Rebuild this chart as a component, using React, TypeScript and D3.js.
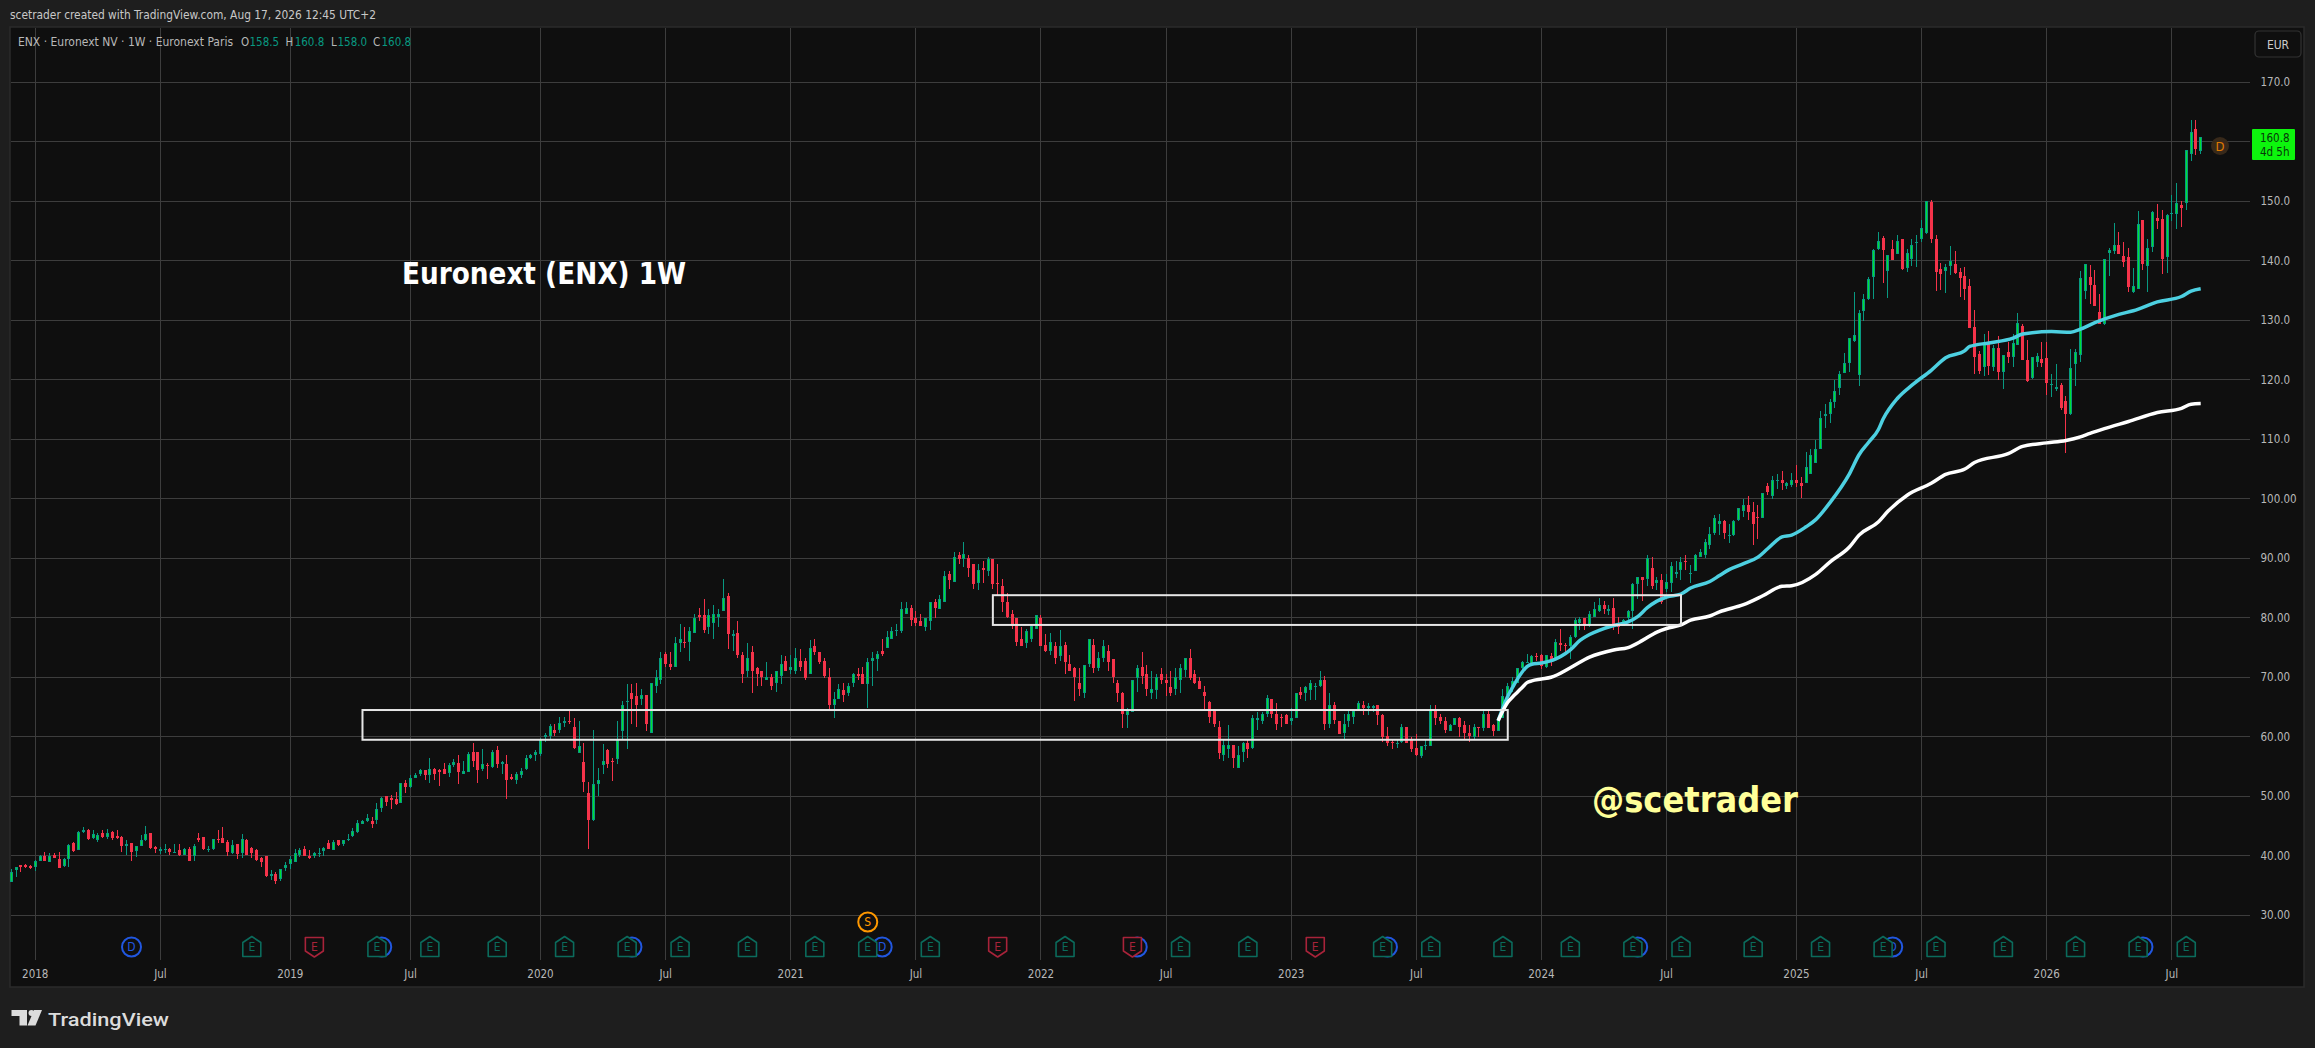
import React from "react";
import * as d3 from "d3";

// Weekly candles (EUR)
const opens = [
35.6,37.6,38.4,38.4,38.3,38.1,39.2,39.9,39.0,40.2,
39.4,38.3,39.4,42.1,41.0,44.0,44.3,43.0,42.6,43.8,
43.2,44.0,43.4,43.2,41.7,42.1,40.8,41.7,42.6,43.8,
41.4,40.8,40.9,41.1,40.6,40.9,40.2,41.2,40.0,43.0,
43.2,41.0,41.1,42.9,43.0,42.4,40.4,41.9,40.4,42.7,
41.3,40.9,39.6,39.9,36.6,37.0,36.1,37.9,38.6,38.9,
40.2,41.1,39.9,40.0,40.4,40.8,42.2,41.0,42.7,42.0,
42.7,43.4,44.0,45.3,45.8,45.9,46.1,48.0,50.1,49.7,
49.6,48.8,52.3,51.5,53.0,53.8,54.4,53.6,54.6,54.5,
54.6,53.9,55.2,55.6,53.8,54.1,57.5,57.4,54.6,55.3,
55.0,57.8,55.5,55.5,53.3,52.8,53.5,54.6,56.4,56.9,
57.1,59.9,60.1,61.2,61.1,62.4,62.7,61.7,57.3,55.7,
50.5,46.0,52.0,55.2,57.7,55.9,56.2,60.9,65.8,67.4,
66.8,66.3,67.0,60.7,68.6,69.6,74.0,72.3,71.8,75.7,
76.0,76.0,77.4,80.4,80.4,78.5,79.2,80.2,81.2,83.7,
77.0,77.5,73.8,71.0,74.2,71.5,71.0,69.6,70.0,69.1,
70.3,72.8,71.3,71.1,72.8,72.7,70.6,75.2,74.2,72.7,
70.1,65.4,66.4,67.8,67.3,69.0,70.5,70.5,68.8,72.8,
73.0,74.5,75.0,76.5,77.7,77.7,80.7,81.7,79.9,79.5,
78.4,79.4,82.7,81.4,82.6,87.3,86.1,90.6,89.8,90.1,
89.0,85.8,88.4,87.8,89.8,85.9,85.4,82.7,80.7,80.0,
76.5,75.7,76.4,78.2,80.0,75.5,74.5,75.2,73.5,75.5,
72.3,71.6,69.1,67.3,72.3,75.5,71.5,73.3,74.5,73.0,
69.1,67.4,63.6,64.1,69.8,71.8,70.6,67.4,67.8,70.5,
69.5,68.3,68.0,69.6,71.3,73.3,70.5,69.3,67.6,65.9,
64.6,61.6,56.9,58.0,58.7,54.7,57.4,58.9,58.2,62.9,
62.7,63.8,66.3,63.8,63.4,63.6,62.7,63.2,67.6,67.3,
67.8,68.5,68.5,69.6,62.2,65.4,62.7,60.7,62.7,63.4,
64.4,65.4,64.9,64.9,65.3,63.6,60.1,59.2,58.9,59.2,
61.6,59.4,58.2,56.7,58.4,58.4,64.4,63.4,62.7,60.9,
61.9,63.1,61.9,60.7,59.9,61.7,61.4,63.8,61.9,60.9,
63.2,67.1,68.5,69.1,71.6,72.5,72.3,73.6,73.8,71.7,
73.6,73.1,75.8,75.5,75.3,76.7,79.2,79.9,78.7,80.2,
81.2,82.1,81.1,81.6,79.2,78.7,79.9,81.2,85.6,86.9,
86.6,88.3,85.9,86.3,84.8,85.8,87.4,88.0,89.5,87.3,
87.8,90.3,90.6,92.3,94.2,95.7,96.2,93.7,94.0,96.4,
98.0,99.0,97.7,96.9,96.7,102.1,100.4,103.1,103.1,102.2,
102.4,103.2,102.7,102.6,104.2,106.1,108.3,113.9,114.2,116.3,
118.7,121.2,122.9,126.5,120.8,131.6,133.5,137.2,141.9,143.8,
138.3,142.0,141.1,143.7,138.8,140.3,143.0,143.7,144.7,149.9,
143.7,138.6,138.3,139.1,139.5,138.1,137.4,135.8,128.9,124.3,
122.2,126.4,122.2,125.3,121.3,124.7,123.8,125.8,129.0,123.3,
120.3,123.0,123.5,123.7,119.1,118.5,119.1,116.4,114.2,122.7,
124.2,134.9,137.3,135.9,131.4,129.4,141.3,141.6,142.6,140.8,
140.6,134.8,135.3,146.8,139.1,142.3,147.2,147.0,140.6,147.9,
147.9,149.4,149.7,157.9,162.1,158.5];
const highs = [
37.8,38.2,38.5,38.7,38.5,39.3,40.2,40.7,40.4,40.4,
40.6,39.7,41.9,42.4,44.1,44.9,44.5,44.4,43.9,44.3,
44.5,44.1,44.4,43.3,42.7,42.2,41.7,43.5,45.0,43.8,
41.6,41.5,41.9,41.3,41.9,41.9,41.3,41.5,42.0,43.9,
43.2,41.6,42.9,44.4,44.9,42.6,42.7,42.0,43.7,42.9,
41.4,41.2,39.8,40.0,37.6,37.3,37.8,39.0,39.9,41.1,
41.3,41.6,40.9,40.7,41.3,41.5,42.7,42.7,42.7,42.7,
43.7,44.7,46.0,46.0,47.1,46.6,48.8,49.9,50.1,50.3,
50.8,52.3,52.8,53.5,53.9,54.6,54.5,56.4,54.8,54.6,
55.6,55.6,56.3,57.0,56.0,57.5,58.9,57.4,57.9,55.6,
57.8,58.4,56.0,57.0,53.8,54.1,54.8,56.9,57.1,57.8,
59.8,60.7,62.2,62.2,63.4,63.4,64.4,63.2,62.6,58.9,
52.4,61.1,54.7,58.8,57.9,56.4,62.6,66.1,68.8,68.8,
69.1,68.1,67.1,69.1,71.3,74.3,74.2,74.2,76.7,78.9,
78.4,78.5,80.7,81.7,83.1,81.4,82.2,81.4,86.6,84.2,
77.9,79.4,74.3,75.7,75.2,71.8,71.0,72.5,70.5,71.1,
73.7,73.5,73.8,75.0,74.7,73.2,76.2,76.4,74.3,73.3,
71.6,67.6,68.8,69.0,69.0,70.8,71.6,71.8,73.3,74.2,
74.5,76.5,77.7,78.4,78.9,82.6,82.7,82.2,81.2,80.6,
80.0,82.7,83.1,83.9,87.8,87.8,91.0,91.1,92.8,90.5,
89.0,89.0,89.5,90.3,89.8,89.0,86.5,84.2,81.3,80.0,
78.4,78.2,79.0,80.4,80.4,77.2,77.5,76.0,77.9,76.0,
73.7,71.8,71.6,72.0,76.4,76.4,74.3,76.2,75.5,73.0,
69.5,67.6,64.9,69.5,72.0,74.2,72.0,71.0,70.5,71.5,
70.5,71.0,71.5,72.2,73.3,74.8,71.3,70.0,68.6,66.1,
64.6,62.6,59.6,61.9,58.7,58.4,59.2,59.4,63.6,64.1,
64.1,67.1,66.4,65.6,63.9,63.8,64.8,67.3,68.3,68.5,
69.6,69.0,71.1,70.3,67.3,65.9,62.7,63.8,64.3,64.6,
66.1,66.1,65.6,65.4,65.3,63.9,61.6,59.4,59.6,62.1,
61.6,59.9,60.4,58.4,59.4,65.3,65.3,63.8,63.4,62.1,
63.2,63.4,62.6,61.9,62.2,61.7,64.6,64.4,62.2,63.4,
68.1,69.1,70.1,71.6,72.8,74.0,73.8,74.1,74.0,73.8,
74.1,76.5,78.2,75.8,77.1,80.0,80.2,80.0,81.2,82.7,
83.4,82.9,82.1,83.4,80.2,79.8,81.3,85.9,86.9,86.9,
90.5,90.3,86.9,87.3,87.4,89.3,89.5,90.3,90.6,88.8,
90.8,91.6,93.2,95.2,97.2,97.5,96.5,95.8,96.4,98.5,
99.9,100.4,99.5,98.9,100.9,102.7,103.9,104.1,104.6,102.9,
104.4,105.6,103.6,107.9,108.4,109.8,114.8,115.9,116.8,120.0,
121.4,124.5,127.1,134.8,131.8,134.4,137.3,142.0,144.8,144.2,
141.0,143.5,144.3,143.7,142.0,143.7,144.4,146.8,150.0,150.2,
144.3,139.7,139.5,142.5,141.6,138.8,139.0,136.9,131.7,124.8,
127.7,128.2,125.8,127.4,124.2,126.4,127.7,131.2,129.4,126.7,
123.8,124.5,126.4,126.4,121.0,122.7,119.5,117.3,125.2,125.2,
138.3,139.5,139.3,138.4,134.4,140.3,142.1,146.3,144.8,143.2,
142.1,138.8,148.4,146.8,143.7,148.4,149.5,148.5,147.9,151.0,
153.1,150.0,158.6,163.6,163.6,160.8];
const lows = [
35.6,36.4,37.3,37.9,37.8,37.4,39.1,39.1,38.9,39.6,
37.9,38.2,38.2,40.7,40.9,43.8,42.6,42.9,42.3,43.0,
42.9,42.7,42.9,40.7,40.1,39.1,39.8,41.6,42.5,41.2,
40.4,40.3,40.5,40.2,40.4,39.9,40.1,39.2,39.2,42.4,
40.9,40.6,41.0,42.1,42.1,40.0,40.3,39.4,39.7,40.2,
39.6,39.2,38.1,36.5,35.9,35.2,35.7,37.4,37.7,38.9,
39.8,39.9,39.4,39.6,39.8,40.0,41.1,40.9,41.7,41.6,
42.5,43.1,43.9,45.3,45.7,44.6,45.3,47.3,48.3,47.8,
48.6,48.8,50.6,51.4,53.0,53.4,52.7,52.3,52.7,51.8,
53.8,53.2,55.0,52.0,53.7,54.0,54.9,52.2,54.2,52.9,
54.7,54.7,53.7,49.6,52.7,52.0,53.1,54.5,56.2,56.0,
56.7,59.1,59.6,60.1,60.7,61.7,62.1,57.9,57.2,50.8,
41.1,45.9,50.0,53.8,54.8,52.5,55.5,59.5,58.0,62.1,
61.7,65.4,60.9,60.6,67.4,68.8,71.8,71.3,71.8,74.3,
75.0,72.7,77.4,79.5,77.5,77.2,76.5,78.4,81.2,74.8,
74.5,73.3,69.0,70.1,67.4,68.6,68.6,69.6,67.8,67.6,
68.8,71.0,70.5,70.6,71.1,69.6,70.6,73.8,72.3,69.8,
64.4,63.1,66.3,65.9,66.9,68.3,69.5,68.8,64.9,68.5,
71.0,73.5,75.0,76.5,77.0,77.4,80.7,78.7,78.7,78.7,
77.7,78.0,80.0,81.4,82.6,84.9,86.1,89.0,88.6,86.9,
84.8,84.6,85.9,87.1,84.8,83.7,80.9,80.0,78.2,75.3,
75.2,75.0,76.0,78.2,75.3,74.2,73.7,72.2,72.7,70.5,
71.0,66.1,66.8,66.6,71.8,70.8,71.1,72.5,71.1,69.1,
65.8,61.4,61.4,64.1,67.6,68.8,66.9,66.4,66.4,68.8,
66.9,66.8,67.1,67.4,70.1,69.5,68.8,68.1,64.4,62.4,
61.6,56.2,56.0,56.4,54.7,54.7,55.7,56.5,58.0,61.2,
62.1,63.4,63.1,61.1,61.7,62.2,62.0,63.1,66.3,66.1,
66.2,66.2,68.3,61.1,61.4,62.2,60.4,59.4,61.7,62.2,
64.3,63.6,63.6,64.1,61.9,59.2,58.5,58.0,58.2,59.0,
58.9,57.5,56.7,56.5,57.7,58.4,61.9,62.2,60.7,60.9,
61.9,59.9,59.6,59.2,59.6,59.9,60.9,61.4,60.1,60.9,
63.2,66.1,67.6,69.1,71.1,72.5,72.3,72.8,71.4,71.6,
71.9,72.9,74.4,74.2,73.1,76.6,77.9,77.9,78.5,80.2,
81.0,80.6,80.4,78.0,77.3,78.6,79.7,78.2,83.2,82.9,
85.4,84.8,84.6,82.4,84.4,84.4,86.7,86.3,88.1,85.9,
87.8,90.2,90.1,91.5,94.0,94.0,93.3,92.5,93.7,96.2,
96.9,96.4,92.3,93.3,96.7,100.6,99.9,101.7,101.4,101.7,
101.9,101.9,100.2,102.6,104.2,106.1,108.3,111.9,112.7,115.2,
117.4,121.2,121.3,126.4,119.0,129.9,133.4,133.6,141.8,136.3,
133.8,140.1,141.1,138.4,138.1,139.1,139.0,143.2,144.5,143.0,
134.9,135.1,134.6,137.6,137.8,133.9,133.4,128.7,121.0,121.0,
120.6,120.8,121.5,120.0,118.5,122.8,122.2,125.8,123.3,119.6,
120.1,122.2,122.2,117.4,117.1,118.1,114.9,107.7,114.1,119.0,
123.0,133.6,132.7,132.4,129.4,129.2,137.4,141.1,141.1,139.0,
134.8,134.6,135.3,138.4,134.8,141.5,145.3,137.8,137.9,146.7,
145.3,145.7,148.5,156.8,157.8,158.0];
const closes = [
37.3,38.2,38.1,38.2,37.9,39.2,39.9,39.2,39.9,39.6,
38.0,39.4,41.8,40.8,44.0,44.3,42.9,43.6,43.5,43.1,
43.9,43.0,43.0,41.6,41.9,40.6,41.7,42.7,43.7,41.3,
41.2,41.2,41.1,40.6,40.7,40.2,41.2,39.2,41.7,42.6,
41.2,41.2,42.9,42.7,42.2,40.6,41.8,40.3,42.9,40.2,
40.4,39.3,38.9,36.6,37.0,35.7,37.8,38.4,39.4,40.5,
41.0,39.9,39.6,40.5,40.5,41.3,41.1,42.4,41.8,42.7,
42.9,44.2,45.5,45.9,46.4,45.3,47.9,49.7,49.1,49.4,
48.7,52.2,51.5,53.1,53.6,54.4,53.5,54.6,53.8,54.0,
53.8,55.3,55.7,54.0,54.3,57.1,56.0,54.5,55.5,55.2,
57.5,55.5,55.7,52.8,52.9,53.8,54.3,56.5,57.0,57.5,
59.7,60.3,61.8,60.6,62.4,62.6,62.6,58.2,58.5,52.4,
46.1,52.0,52.8,55.9,55.5,55.7,59.4,65.3,66.1,66.4,
65.3,67.1,62.1,69.1,70.1,73.3,72.2,71.8,75.7,76.5,
75.8,77.7,80.0,80.2,77.9,80.4,80.7,80.7,83.4,77.2,
77.2,73.7,70.6,73.3,71.0,70.6,70.0,70.0,68.6,71.1,
72.3,71.0,71.8,73.2,71.8,69.8,75.0,74.2,72.5,70.3,
65.4,66.3,68.0,67.1,68.5,70.5,70.3,68.8,72.5,73.3,
74.0,74.0,76.7,77.7,77.9,81.4,81.7,79.7,79.2,78.7,
79.9,82.6,81.6,83.1,87.1,86.3,90.3,89.8,90.8,88.3,
85.6,88.1,88.1,89.8,85.6,85.6,82.6,80.2,78.7,76.0,
75.3,77.7,78.7,80.4,75.3,74.5,76.0,73.2,75.3,72.5,
71.0,70.0,68.1,72.0,76.4,71.5,73.3,75.3,72.5,70.0,
67.3,63.9,64.4,69.5,71.6,70.3,68.1,68.0,70.0,69.5,
69.0,67.4,70.0,71.6,73.2,69.8,69.1,68.1,66.9,63.4,
62.1,57.2,58.7,58.7,56.4,56.9,58.9,57.9,63.2,63.2,
63.9,66.6,63.8,62.2,63.1,62.2,63.1,67.3,67.1,68.3,
69.1,68.6,69.6,62.1,65.4,62.9,60.4,62.2,63.8,64.3,
65.6,64.8,65.1,65.1,63.6,59.9,59.0,59.0,59.0,61.6,
58.9,57.9,57.0,58.4,58.7,64.6,63.1,62.7,61.1,61.9,
63.1,61.7,60.7,60.2,61.6,61.6,63.8,61.4,60.9,63.2,
66.8,68.5,69.3,71.6,72.5,72.6,73.6,73.4,71.9,73.7,
72.7,76.0,75.4,75.4,76.7,79.6,79.8,78.7,80.7,81.5,
82.2,81.4,81.4,78.9,78.5,79.7,81.2,85.6,86.9,86.4,
90.1,85.4,86.3,82.7,86.1,88.7,87.7,89.3,89.3,87.6,
90.6,91.1,92.7,94.1,96.7,96.2,94.2,94.0,96.2,98.4,
98.9,97.7,95.7,96.7,100.9,101.2,103.1,103.2,102.7,102.7,
103.1,102.7,102.2,105.4,107.4,108.4,113.5,114.2,116.2,118.1,
120.9,122.9,127.0,127.6,131.3,133.6,137.0,141.8,143.3,141.8,
140.9,140.1,143.3,138.6,141.3,142.6,143.2,145.5,150.0,143.7,
138.1,137.8,139.0,140.0,137.9,137.1,135.3,128.7,123.8,121.5,
126.2,122.3,125.3,121.3,124.2,123.8,126.2,129.5,123.3,119.8,
123.8,124.0,122.8,119.5,119.3,118.8,115.3,114.3,122.0,124.7,
137.1,139.5,135.9,132.4,129.4,140.3,141.8,142.6,141.1,139.8,
135.6,135.8,146.2,139.5,142.1,148.2,146.7,140.3,147.7,148.0,
149.7,148.9,158.6,161.6,158.8,160.8];

// Moving averages, read at knots along the curves (week index, price)
const cyanWeeks = [309,310,311,312,313,314,315,316,318,321,323,324,326,328,330,333,336,338,340,342,344,347,349,353,355,357,360,363,365,368,370,373,375,378,382,384,386,388,389,392,395,399,402,406,407,411,416,418,424,428,430,433,438,441,446,451,453,455];
const cyanValues = [62.7,64.9,66.8,68.3,69.7,70.9,71.8,72.2,72.4,73.1,74.0,74.6,76.2,77.2,77.9,78.7,79.3,80.2,81.7,82.8,83.5,84.0,85.0,86.1,87.1,88.1,89.1,90.2,91.6,93.6,93.9,95.3,96.5,99.4,104.2,107.4,109.5,111.6,113.4,116.9,119.1,121.6,123.7,124.9,125.6,126.2,127.0,127.7,128.1,128.0,128.5,129.6,131.0,131.6,133.1,134.0,134.9,135.3];
const whiteWeeks = [309,310,311,312,313,314,315,316,318,320,324,328,333,336,339,342,344,347,349,353,355,360,364,368,370,375,378,382,384,388,390,394,399,402,406,408,415,418,423,427,430,432,435,440,446,451,453,455];
const whiteValues = [62.7,64.4,65.8,66.7,67.5,68.3,69.1,69.4,69.7,70.0,71.6,73.4,74.6,75.0,76.2,77.6,78.2,78.8,79.6,80.3,81.0,82.2,83.7,85.3,85.4,87.3,89.4,91.9,93.9,96.1,97.9,100.6,102.6,104.1,105.0,106.1,107.6,108.8,109.4,109.8,110.4,111.0,111.8,113.0,114.5,115.2,115.9,116.0];

const priceTicks = [170,160,150,140,130,120,110,100,90,80,70,60,50,40,30];
const priceLabels = ["170.0","","150.0","140.0","130.0","120.0","110.0","100.00","90.00","80.00","70.00","60.00","50.00","40.00","30.00"];
const timeTickWeeks = [5,31,58,83,110,136,162,188,214,240,266,292,318,344,371,397,423,449];
const timeTickLabels = ["2018","Jul","2019","Jul","2020","Jul","2021","Jul","2022","Jul","2023","Jul","2024","Jul","2025","Jul","2026","Jul"];
const earningsGood = [50,76,87,101,115,128,139,153,167,178,191,219,243,257,285,295,310,324,337,347,362,376,389,400,414,429,442,452];
const earningsBad = [63,205,233,271];
const dividends = [25,77,129,181,234,286,338,391,443];
const splitWeek = 178;
const boxes = [
  { from: 73, to: 311, top: 64.5, bottom: 59.5 },
  { from: 204, to: 347, top: 83.8, bottom: 78.8 },
];

const W = 2315, H = 1048;
const PANE = { l: 10, t: 27, r: 2304, b: 987 };
const GRID_R = 2250, GRID_B = 960;
const BG = "#1e1e1e", PANE_BG = "#0f0f0f", GRID = "#3d3d3d", TXT = "#b8b8b8";
const FONT = "'DejaVu Sans Condensed', 'DejaVu Sans', sans-serif";
const UP_EDGE = "#089981", UP_FILL = "#00e030", DOWN = "#f5334a";
const labelStyle = { fontStretch: "condensed" as const };

const x = d3.scaleLinear().domain([0, 455]).range([11.2, 2200.7]);
const y = d3.scaleLinear().domain([30, 170]).range([915.3, 82.3]);

const maPath = (weeks: number[], values: number[]) =>
  d3.line<number>().x((_, i) => x(weeks[i])).y((v) => y(v)).curve(d3.curveMonotoneX)(values) || "";

function Candle({ i }: { i: number }) {
  const o = opens[i], c = closes[i];
  const up = c >= o;
  const cx = Math.floor(x(i));
  const top = Math.round(y(Math.max(o, c)));
  const bot = Math.max(top + 1, Math.round(y(Math.min(o, c))));
  const hi = Math.round(y(highs[i]));
  const lo = Math.round(y(lows[i]));
  const edge = up ? UP_EDGE : DOWN;
  return (
    <g>
      <rect x={cx} y={hi} width={1} height={Math.max(1, lo - hi)} fill={edge} />
      <rect x={cx - 1} y={top} width={3} height={bot - top} fill={edge} />
      {up && bot - top > 2 && <rect x={cx} y={top + 1} width={1} height={bot - top - 2} fill={UP_FILL} />}
    </g>
  );
}

function Earnings({ week, bad }: { week: number; bad: boolean }) {
  const cx = x(week);
  const color = bad ? "#a8233a" : "#0b6b5c";
  const d = bad
    ? `M${cx - 9},937.5 L${cx + 9},937.5 L${cx + 9},951 L${cx},957 L${cx - 9},951 Z`
    : `M${cx - 9},942.5 L${cx},936.5 L${cx + 9},942.5 L${cx + 9},956.5 L${cx - 9},956.5 Z`;
  return (
    <g>
      <path d={d} fill={PANE_BG} stroke={color} strokeWidth={1.6} strokeLinejoin="round" />
      <text x={cx} y={947} textAnchor="middle" dominantBaseline="central" fill={color} fontSize={12} fontFamily={FONT} style={labelStyle}>E</text>
    </g>
  );
}

export default function App() {
  return (
    <svg width={W} height={H} viewBox={`0 0 ${W} ${H}`} style={{ position: "absolute", left: 0, top: 0, display: "block" }}>
      <rect width={W} height={H} fill={BG} />
      <rect x={PANE.l} y={PANE.t} width={PANE.r - PANE.l} height={PANE.b - PANE.t} fill={PANE_BG} stroke="#2b2b2b" strokeWidth={1.5} />
      <text x={10} y={15} dominantBaseline="central" fill="#c8c8c8" fontSize={12} fontFamily={FONT} style={labelStyle} textLength={366} lengthAdjust="spacingAndGlyphs">scetrader created with TradingView.com, Aug 17, 2026 12:45 UTC+2</text>

      <g shapeRendering="crispEdges">
        {priceTicks.map((p) => <rect key={p} x={PANE.l + 1} y={Math.floor(y(p))} width={GRID_R - PANE.l - 1} height={1} fill={GRID} />)}
        {timeTickWeeks.map((w, i) => <rect key={i} x={Math.floor(x(w))} y={PANE.t + 1} width={1} height={GRID_B - PANE.t - 1} fill={GRID} />)}
      </g>

      {priceTicks.map((p, i) => priceLabels[i] && (
        <text key={p} x={2260.5} y={y(p)} dominantBaseline="central" fill={TXT} fontSize={11.5} fontFamily={FONT} style={labelStyle}>{priceLabels[i]}</text>
      ))}
      {timeTickWeeks.map((w, i) => (
        <text key={i} x={x(w)} y={973.5} textAnchor="middle" dominantBaseline="central" fill={TXT} fontSize={11.5} fontFamily={FONT} style={labelStyle}>{timeTickLabels[i]}</text>
      ))}

      <g fontSize={11.5} fontFamily={FONT} dominantBaseline="central" style={labelStyle}>
        <text x={18} y={41.7} fill={TXT} textLength={215} lengthAdjust="spacingAndGlyphs">ENX · Euronext NV · 1W · Euronext Paris</text>
        <text x={241} y={41.7} fill={TXT}>O</text>
        <text x={249.5} y={41.7} fill={UP_EDGE}>158.5</text>
        <text x={285.5} y={41.7} fill={TXT}>H</text>
        <text x={294.7} y={41.7} fill={UP_EDGE}>160.8</text>
        <text x={331} y={41.7} fill={TXT}>L</text>
        <text x={337.5} y={41.7} fill={UP_EDGE}>158.0</text>
        <text x={373} y={41.7} fill={TXT}>C</text>
        <text x={381.5} y={41.7} fill={UP_EDGE}>160.8</text>
      </g>

      <g shapeRendering="crispEdges">{opens.map((_, i) => <Candle key={i} i={i} />)}</g>

      <path d={maPath(cyanWeeks, cyanValues)} fill="none" stroke="#4dd0e1" strokeWidth={3.5} strokeLinejoin="round" />
      <path d={maPath(whiteWeeks, whiteValues)} fill="none" stroke="#ffffff" strokeWidth={3.5} strokeLinejoin="round" />

      {boxes.map((b, i) => (
        <rect key={i} x={x(b.from)} y={y(b.top)} width={x(b.to) - x(b.from)} height={y(b.bottom) - y(b.top)} fill="none" stroke="#e6e6e6" strokeWidth={2} />
      ))}

      <text x={402} y={274} dominantBaseline="central" fill="#ffffff" fontSize={29.5} fontWeight={700} fontFamily={FONT} style={labelStyle} textLength={284} lengthAdjust="spacingAndGlyphs">Euronext (ENX) 1W</text>
      <text x={1592} y={800} dominantBaseline="central" fill="#ffff99" fontSize={35} fontWeight={700} fontFamily={FONT} style={labelStyle} textLength={206} lengthAdjust="spacingAndGlyphs">@scetrader</text>

      {dividends.map((w) => (
        <g key={w}>
          <circle cx={x(w)} cy={947} r={9.5} fill={PANE_BG} stroke="#2157e0" strokeWidth={2} />
          <text x={x(w)} y={947} textAnchor="middle" dominantBaseline="central" fill="#2157e0" fontSize={12} fontFamily={FONT} style={labelStyle}>D</text>
        </g>
      ))}
      {earningsGood.map((w) => <Earnings key={w} week={w} bad={false} />)}
      {earningsBad.map((w) => <Earnings key={w} week={w} bad={true} />)}
      <circle cx={x(splitWeek)} cy={922} r={9.5} fill={PANE_BG} stroke="#ff9800" strokeWidth={2} />
      <text x={x(splitWeek)} y={922} textAnchor="middle" dominantBaseline="central" fill="#ff9800" fontSize={12} fontFamily={FONT} style={labelStyle}>S</text>

      <circle cx={2220} cy={146} r={9} fill="#38291a" />
      <text x={2220} y={146} textAnchor="middle" dominantBaseline="central" fill="#e07b00" fontSize={13} fontFamily={FONT} style={labelStyle}>D</text>

      <rect x={2252} y={129} width={43} height={31} rx={1} fill="#0df50d" />
      <text x={2289.5} y={137.5} textAnchor="end" dominantBaseline="central" fill="#07380a" fontSize={11.5} fontFamily={FONT} style={labelStyle}>160.8</text>
      <text x={2289.5} y={151.5} textAnchor="end" dominantBaseline="central" fill="#07380a" fontSize={11.5} fontFamily={FONT} style={labelStyle}>4d 5h</text>

      <rect x={2255} y={31} width={46} height={26} rx={4} fill={PANE_BG} stroke="#333333" strokeWidth={1.2} />
      <text x={2278} y={44.5} textAnchor="middle" dominantBaseline="central" fill="#cccccc" fontSize={12} fontFamily={FONT} style={labelStyle}>EUR</text>

      <g fill="#dcdcdc">
        <path d="M11.5,1010 H27 V1025.5 H19.5 V1016 H11.5 Z" />
        <circle cx={31.5} cy={1013} r={3} />
        <path d="M34,1010 H42 L35.5,1025.5 H27.5 Z" />
      </g>
      <text x={48} y={1019} dominantBaseline="central" fill="#dcdcdc" fontSize={19} fontWeight={500} fontFamily="Roboto, sans-serif" textLength={121} lengthAdjust="spacingAndGlyphs">TradingView</text>
    </svg>
  );
}
